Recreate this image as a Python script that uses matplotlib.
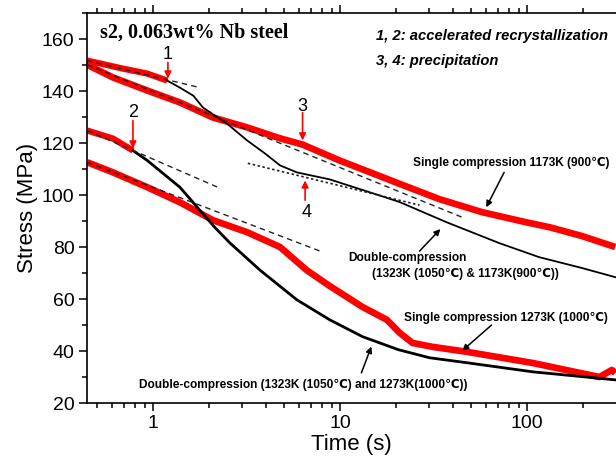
import numpy as np
import matplotlib.pyplot as plt
from matplotlib.ticker import LogLocator, MultipleLocator, NullFormatter, FixedLocator, FixedFormatter

# --- data (time in s, stress in MPa) ---

# single compression 1173K (900C)
t_s900 = [0.444, 0.61, 0.93, 1.39, 2.09, 3.18, 4.77, 6.3, 10.0, 16.4, 20.8, 34, 57.5, 99, 132, 197, 296]
s_s900 = [150.1, 145.2, 140.2, 135.6, 129.8, 126.0, 121.8, 119.4, 113.2, 107.2, 104.3, 98.4, 93.4, 89.5, 87.6, 84.2, 80.0]

# double compression 1323K & 1173K: first stage (red) then after point 1 (black)
t_d900_a = [0.444, 0.69, 0.93, 1.19]
s_d900_a = [151.7, 148.6, 146.7, 144.0]
t_d900_b = [1.19, 1.39, 1.64, 1.85, 2.48, 3.18, 3.96, 4.77, 5.87, 8.8, 16.3, 20.8, 37.2, 71, 116, 197, 296]
s_d900_b = [144.0, 141.3, 138.2, 133.6, 127.5, 121.0, 116.0, 111.4, 108.7, 106.0, 99.8, 97.3, 89.5, 81.5, 76.1, 71.9, 68.4]

# single compression 1273K (1000C)
t_s1000 = [0.444, 0.61, 0.93, 1.39, 2.09, 3.18, 4.77, 6.65, 8.8, 13.2, 17.8, 20.8, 24.4, 31.2, 47.5, 107, 244, 284, 296]
s_s1000 = [112.6, 108.7, 103.0, 97.2, 90.3, 85.7, 80.0, 71.0, 65.0, 56.9, 52.0, 47.0, 43.1, 41.6, 39.7, 35.4, 30.0, 32.7, 31.5]

# double compression 1323K & 1273K: first stage (red) then after point 2 (black)
t_d1000_a = [0.444, 0.61, 0.78]
s_d1000_a = [124.8, 121.7, 117.1]
t_d1000_b = [0.78, 0.93, 1.13, 1.39, 1.78, 2.14, 2.58, 3.73, 5.87, 8.8, 13.2, 20.5, 30.1, 47.5, 107, 296]
s_d1000_b = [117.1, 113.3, 108.3, 103.0, 94.1, 87.5, 81.5, 71.1, 59.7, 52.0, 45.5, 40.5, 37.4, 35.5, 32.0, 28.9]

# tangent lines (dashed) and the precipitation tangent (dotted)
dash_t = [[0.444, 1.78], [0.444, 45.1], [0.444, 2.28], [0.444, 8.1]]
dash_s = [[151.7, 141.3], [150.1, 91.4], [124.8, 102.6], [112.6, 78.0]]
dot_t = [3.21, 26.6]
dot_s = [112.2, 96.1]

# red markers: label, label position, arrow tail, arrow tip
mark_lbl = ['1', '2', '3', '4']
mark_txt = [(1.2, 154.2), (0.78, 131.6), (6.3, 134.0), (6.6, 93.4)]
mark_tail = [(1.2, 151.0), (0.78, 128.6), (6.3, 131.7), (6.5, 98.0)]
mark_tip = [(1.2, 144.8), (0.78, 117.9), (6.3, 121.0), (6.5, 105.6)]

sans = ['Liberation Sans', 'DejaVu Sans']
plt.rcParams['font.family'] = sans

fig = plt.figure(figsize=(6.16, 4.67), dpi=100)
ax = fig.add_axes([87 / 616, 1 - 403 / 467, 1 - 87 / 616, 390 / 467])

red = '#ff0000'
ax.plot(t_s900, s_s900, color=red, lw=4.8, solid_capstyle='butt', zorder=2)
ax.plot(t_s1000, s_s1000, color=red, lw=4.8, solid_capstyle='butt', zorder=2)
ax.plot(t_d900_a, s_d900_a, color=red, lw=4.5, solid_capstyle='butt', zorder=2)
ax.plot(t_d1000_a, s_d1000_a, color=red, lw=4.5, solid_capstyle='butt', zorder=2)
ax.plot(t_d900_b, s_d900_b, color='k', lw=1.3, zorder=3)
ax.plot(t_d1000_b, s_d1000_b, color='k', lw=2.0, zorder=3)

for tt, ss in zip(dash_t, dash_s):
    ax.plot(tt, ss, color='#222222', lw=1.0, ls=(0, (4, 3)), zorder=4)
ax.plot(dot_t, dot_s, color='#222222', lw=1.2, ls=(0, (1.5, 1.5)), zorder=4)

for lbl, xy, tail, tip in zip(mark_lbl, mark_txt, mark_tail, mark_tip):
    ax.text(xy[0], xy[1], lbl, ha='center', va='center', fontsize=13)
    ax.annotate('', xy=tip, xytext=tail,
                arrowprops=dict(arrowstyle='-|>', color=red, lw=1.2, mutation_scale=10,
                                shrinkA=0, shrinkB=0))

# curve labels
blk = dict(arrowstyle='-|>', color='k', lw=1.1, mutation_scale=9, shrinkA=0, shrinkB=0)
fs = 8.6
ax.text(82.6, 112.2, 'Single compression 1173K (900\u2103)', ha='center', va='center',
        fontsize=fs, fontweight='bold', family=sans)
ax.annotate('', xy=(60.5, 95.3), xytext=(75.4, 108.7), arrowprops=blk)

ax.text(10 ** ((348 - 153) / 187.3), 160 - (258 - 38.3) / 2.607, 'Double-compression',
        ha='left', va='center', fontsize=fs, fontweight='bold', family=sans)
ax.text(10 ** ((372 - 153) / 187.3), 160 - (274 - 38.3) / 2.607,
        '(1323K (1050\u2103) & 1173K(900\u2103))',
        ha='left', va='center', fontsize=fs, fontweight='bold', family=sans)
ax.annotate('', xy=(34.4, 86.9), xytext=(26.6, 78.4), arrowprops=blk)

ax.text(76.7, 52.8, 'Single compression 1273K (1000\u2103)', ha='center', va='center',
        fontsize=fs, fontweight='bold', family=sans)
ax.annotate('', xy=(45.0, 40.1), xytext=(64.6, 50.0), arrowprops=blk)

ax.text(6.35, 27.0, 'Double-compression (1323K (1050\u2103) and 1273K(1000\u2103))',
        ha='center', va='center', fontsize=fs, fontweight='bold', family=sans)
ax.annotate('', xy=(14.7, 41.7), xytext=(13.0, 31.6), arrowprops=blk)

# headings
ax.text(0.025, 0.951, 's2, 0.063wt% Nb steel', transform=ax.transAxes, ha='left', va='center',
        fontsize=14.5, fontweight='bold', family='Liberation Serif')
ax.text(0.546, 0.941, '1, 2: accelerated recrystallization', transform=ax.transAxes,
        ha='left', va='center', fontsize=10.6, fontweight='bold', fontstyle='italic')
ax.text(0.546, 0.877, '3, 4: precipitation', transform=ax.transAxes,
        ha='left', va='center', fontsize=10.6, fontweight='bold', fontstyle='italic')

# axes
ax.set_xscale('log')
ax.set_xlim(0.443, 299)
ax.set_ylim(20, 170)
ax.xaxis.set_major_locator(FixedLocator([1, 10, 100]))
ax.xaxis.set_major_formatter(FixedFormatter(['1', '10', '100']))
ax.xaxis.set_minor_locator(LogLocator(base=10, subs=np.arange(2, 10)))
ax.xaxis.set_minor_formatter(NullFormatter())
ax.yaxis.set_major_locator(MultipleLocator(20))
ax.yaxis.set_minor_locator(MultipleLocator(10))
ax.tick_params(which='both', direction='out', top=True, right=False, labelsize=14, width=1.1)
ax.tick_params(which='major', length=6, pad=3)
ax.tick_params(which='minor', length=3.5)
for side in ['left', 'bottom', 'top']:
    ax.spines[side].set_linewidth(1.2)
ax.spines['right'].set_visible(False)

ax.set_xlabel('Time (s)', fontsize=16, labelpad=1)
ax.set_ylabel('Stress (MPa)', fontsize=16, labelpad=3)

fig.savefig('out.png', dpi=100)
